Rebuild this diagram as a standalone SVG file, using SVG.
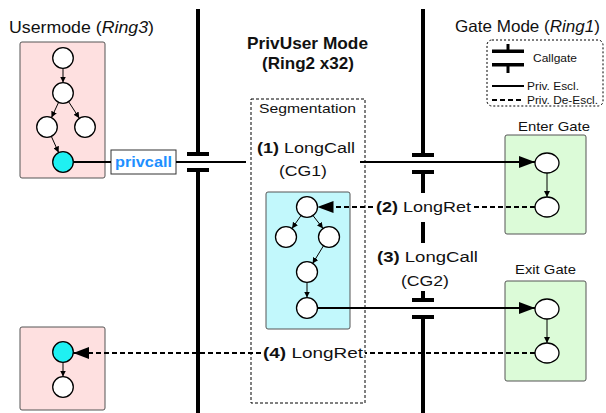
<svg xmlns="http://www.w3.org/2000/svg" width="606" height="413" viewBox="0 0 606 413">
  <style>
    text { font-family: "Liberation Sans", Arial, Helvetica, sans-serif; fill: #111; }
    .title { font-size: 16.5px; }
    .bold { font-weight: bold; }
    .lbl { font-size: 15.5px; }
    .small { font-size: 11.5px; }
    .gate { font-size: 13.5px; }
    .box-user { fill: #fee0e0; stroke: #555; stroke-width: 1; }
    .box-cyan { fill: #c2f8fc; stroke: #555; stroke-width: 1; }
    .box-green { fill: #dcfbd8; stroke: #555; stroke-width: 1; }
    .node { fill: #fff; stroke: #000; stroke-width: 1.3; }
    .node-hot { fill: #1ff0f2; stroke: #000; stroke-width: 1.3; }
    .edge { stroke: #000; stroke-width: 1; fill: none; marker-end: url(#small-head); }
    .bar { stroke: #000; stroke-width: 4; fill: none; }
    .plate { fill: #000; }
    .call { stroke: #000; stroke-width: 2; fill: none; }
    .ret { stroke: #000; stroke-width: 2; fill: none; stroke-dasharray: 5 3; }
  </style>
  <defs>
    <marker id="small-head" viewBox="0 0 8 8" refX="8" refY="4" markerWidth="6" markerHeight="6" markerUnits="userSpaceOnUse" orient="auto">
      <path d="M0,0 L8,4 L0,8 Z" fill="#000"/>
    </marker>
    <marker id="big-head" viewBox="0 0 16 12" refX="16" refY="6" markerWidth="16" markerHeight="12" markerUnits="userSpaceOnUse" orient="auto">
      <path d="M0,0 L16,6 L0,12 Z" fill="#000"/>
    </marker>
  </defs>

  <!-- ring boundaries with call gates -->
  <g id="boundaries">
    <line class="bar" x1="198" y1="9" x2="198" y2="153"/>
    <rect class="plate" x="187" y="152" width="22" height="4"/>
    <rect class="plate" x="187" y="168" width="22" height="4"/>
    <line class="bar" x1="198" y1="171" x2="198" y2="413"/>

    <line class="bar" x1="423" y1="9" x2="423" y2="154"/>
    <rect class="plate" x="412" y="153" width="22" height="4"/>
    <rect class="plate" x="412" y="170" width="22" height="4"/>
    <line class="bar" x1="423" y1="173" x2="423" y2="193"/>
    <line class="bar" x1="423" y1="222" x2="423" y2="243"/>
    <line class="bar" x1="423" y1="291" x2="423" y2="299"/>
    <rect class="plate" x="412" y="298" width="22" height="4"/>
    <rect class="plate" x="412" y="315" width="22" height="4"/>
    <line class="bar" x1="423" y1="318" x2="423" y2="413"/>
  </g>

  <!-- headings -->
  <g id="headings">
    <text class="title" x="9" y="32.5" textLength="145" lengthAdjust="spacingAndGlyphs">Usermode (<tspan font-style="italic">Ring3</tspan>)</text>
    <text class="title bold" x="247" y="49" font-size="16" textLength="121" lengthAdjust="spacingAndGlyphs">PrivUser Mode</text>
    <text class="title bold" x="262" y="69" font-size="16" textLength="92" lengthAdjust="spacingAndGlyphs">(Ring2 x32)</text>
    <text class="title" x="455" y="32" textLength="145" lengthAdjust="spacingAndGlyphs">Gate Mode (<tspan font-style="italic">Ring1</tspan>)</text>
  </g>

  <!-- legend -->
  <g id="legend">
    <rect x="487" y="40" width="116" height="66" rx="5" fill="none" stroke="#000" stroke-width="1" stroke-dasharray="2 2"/>
    <line x1="508" y1="44" x2="508" y2="50" stroke="#000" stroke-width="3"/>
    <rect class="plate" x="492" y="49.5" width="32" height="3.5"/>
    <rect class="plate" x="492" y="63" width="32" height="3.5"/>
    <line x1="508" y1="66" x2="508" y2="73" stroke="#000" stroke-width="3"/>
    <text class="small" x="533" y="62" font-size="12.5" textLength="44" lengthAdjust="spacingAndGlyphs">Callgate</text>
    <line x1="492" y1="86" x2="524" y2="86" stroke="#000" stroke-width="2"/>
    <text class="small" x="527" y="90" textLength="52" lengthAdjust="spacingAndGlyphs">Priv. Escl.</text>
    <line x1="492" y1="100" x2="524" y2="100" stroke="#000" stroke-width="2" stroke-dasharray="5 3"/>
    <text class="small" x="527" y="104" textLength="71" lengthAdjust="spacingAndGlyphs">Priv. De-Escl.</text>
  </g>

  <!-- user mode caller -->
  <g id="user-caller">
    <rect class="box-user" x="20" y="42" width="85" height="136" rx="2"/>
    <ellipse class="node" cx="63" cy="58" rx="10.3" ry="10.3"/>
    <ellipse class="node" cx="63" cy="93" rx="10.3" ry="10.3"/>
    <ellipse class="node" cx="47" cy="127" rx="10.3" ry="10.3"/>
    <ellipse class="node" cx="85" cy="127" rx="10.3" ry="10.3"/>
    <ellipse class="node-hot" cx="63" cy="162" rx="10.3" ry="10.3"/>
    <line class="edge" x1="63" y1="68.5" x2="63" y2="82.5"/>
    <line class="edge" x1="58.5" y1="102.5" x2="51.5" y2="117.5"/>
    <line class="edge" x1="68.7" y1="101.8" x2="79.3" y2="118.2"/>
    <line class="edge" x1="51.4" y1="136.5" x2="58.6" y2="152.5"/>
  </g>

  <!-- user mode return target -->
  <g id="user-return">
    <rect class="box-user" x="20" y="327" width="85" height="83" rx="2"/>
    <ellipse class="node-hot" cx="63" cy="352" rx="10.3" ry="10.3"/>
    <ellipse class="node" cx="63" cy="387" rx="10.3" ry="10.3"/>
    <line class="edge" x1="63" y1="362.5" x2="63" y2="376.5"/>
  </g>

  <!-- privcall instruction -->
  <g id="privcall">
    <rect x="111" y="150" width="65" height="24" fill="#fff" stroke="#333" stroke-width="1"/>
    <text x="115" y="167" font-size="14.5" font-weight="bold" style="fill:#1e8fff" textLength="57" lengthAdjust="spacingAndGlyphs">privcall</text>
  </g>

  <!-- segmentation region -->
  <g id="segmentation">
    <rect x="251" y="99" width="114" height="304" fill="none" stroke="#000" stroke-width="1" stroke-dasharray="3 2"/>
    <text class="gate" x="259" y="113" textLength="97" lengthAdjust="spacingAndGlyphs">Segmentation</text>
  </g>

  <!-- privileged user code -->
  <g id="privuser-code">
    <rect class="box-cyan" x="266" y="192" width="84" height="137" rx="2"/>
    <ellipse class="node" cx="307" cy="207" rx="10.5" ry="10.3"/>
    <ellipse class="node" cx="286" cy="237" rx="10.5" ry="10.3"/>
    <ellipse class="node" cx="329" cy="237" rx="10.5" ry="10.3"/>
    <ellipse class="node" cx="307" cy="272" rx="10.5" ry="10.3"/>
    <ellipse class="node" cx="307" cy="308" rx="10.5" ry="10.3"/>
    <line class="edge" x1="301" y1="215.6" x2="292" y2="228.4"/>
    <line class="edge" x1="313" y1="215.6" x2="323" y2="228.4"/>
    <line class="edge" x1="323.4" y1="245.9" x2="312.6" y2="263.6"/>
    <line class="edge" x1="307" y1="282.5" x2="307" y2="297.5"/>
  </g>

  <!-- enter gate -->
  <g id="enter-gate">
    <text class="gate" x="518" y="131" textLength="72" lengthAdjust="spacingAndGlyphs">Enter Gate</text>
    <rect class="box-green" x="505" y="135" width="81" height="99" rx="2"/>
    <ellipse class="node" cx="547" cy="163" rx="12" ry="10"/>
    <ellipse class="node" cx="547" cy="207" rx="12" ry="10"/>
    <line class="edge" x1="547" y1="173" x2="547" y2="197"/>
  </g>

  <!-- exit gate -->
  <g id="exit-gate">
    <text class="gate" x="515" y="274" textLength="61" lengthAdjust="spacingAndGlyphs">Exit Gate</text>
    <rect class="box-green" x="505" y="281" width="81" height="100" rx="2"/>
    <ellipse class="node" cx="547" cy="309" rx="12" ry="10"/>
    <ellipse class="node" cx="547" cy="353" rx="12" ry="10"/>
    <line class="edge" x1="547" y1="319" x2="547" y2="343"/>
  </g>

  <!-- privilege transitions -->
  <g id="connectors">
    <line class="call" x1="73.3" y1="162" x2="111" y2="162"/>
    <line class="call" x1="176" y1="162" x2="246" y2="162"/>
    <line class="call" x1="360" y1="162" x2="535" y2="162" marker-end="url(#big-head)"/>
    <line class="ret" x1="535" y1="207" x2="473" y2="207"/>
    <line class="ret" x1="373" y1="207" x2="317.5" y2="207" marker-end="url(#big-head)"/>
    <line class="call" x1="317.5" y1="308" x2="535" y2="308" marker-end="url(#big-head)"/>
    <line class="ret" x1="535" y1="353" x2="365" y2="353"/>
    <line class="ret" x1="261" y1="353" x2="73.3" y2="353" marker-end="url(#big-head)"/>
  </g>

  <!-- transition labels -->
  <g id="labels">
    <text class="lbl" x="257" y="153" textLength="98" lengthAdjust="spacingAndGlyphs"><tspan class="bold">(1)</tspan> LongCall</text>
    <text class="lbl" x="279" y="176" textLength="48" lengthAdjust="spacingAndGlyphs">(CG1)</text>
    <text class="lbl" x="376" y="212" textLength="95" lengthAdjust="spacingAndGlyphs"><tspan class="bold">(2)</tspan> LongRet</text>
    <text class="lbl" x="377" y="262" textLength="101" lengthAdjust="spacingAndGlyphs"><tspan class="bold">(3)</tspan> LongCall</text>
    <text class="lbl" x="401" y="286" textLength="48" lengthAdjust="spacingAndGlyphs">(CG2)</text>
    <text class="lbl" x="263" y="358" textLength="100" lengthAdjust="spacingAndGlyphs"><tspan class="bold">(4)</tspan> LongRet</text>
  </g>
</svg>
